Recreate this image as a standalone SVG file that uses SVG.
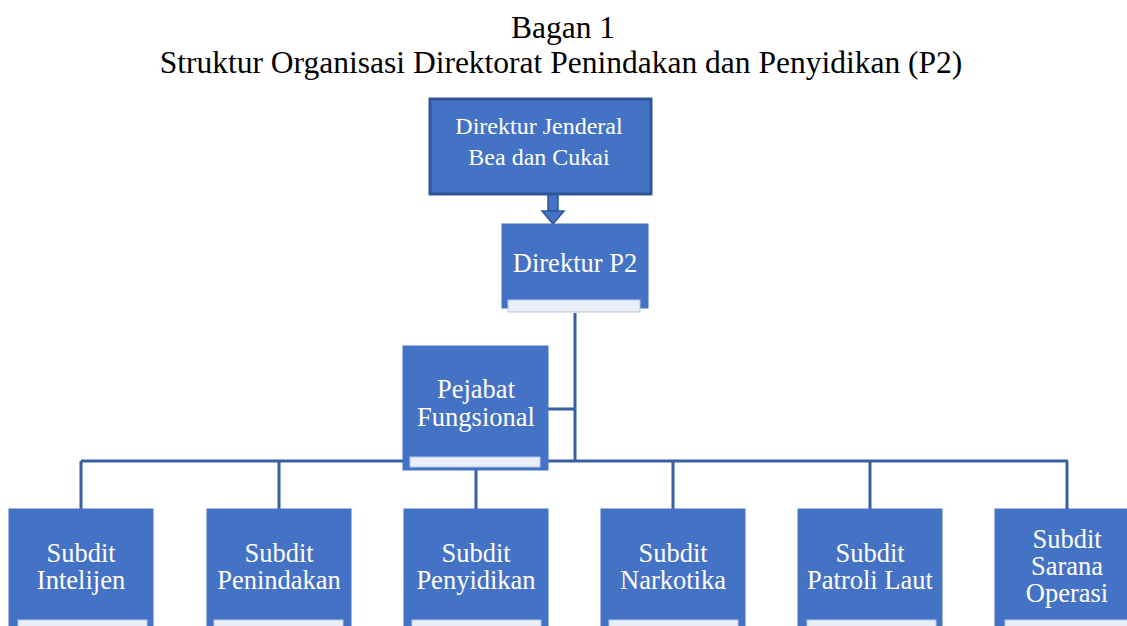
<svg xmlns="http://www.w3.org/2000/svg" width="1127" height="626" viewBox="0 0 1127 626">
<style>
.title{font-family:"Liberation Serif",serif;font-size:31.5px;fill:#000;text-anchor:middle}
.box{fill:#4472C4;stroke:#4472C4;stroke-width:1}
.bar{fill:#E9EEF7;stroke:#B4C6E7;stroke-width:1}
.t{font-family:"Liberation Serif",serif;font-size:26.5px;fill:#fff;text-anchor:middle}
.t2{font-family:"Liberation Serif",serif;font-size:24px;fill:#fff;text-anchor:middle}
.line{fill:none;stroke:#3A5FA0;stroke-width:3}
</style>
<rect width="1127" height="626" fill="#fff"/>
<text class="title" x="563" y="38">Bagan 1</text>
<text class="title" x="561" y="73">Struktur Organisasi Direktorat Penindakan dan Penyidikan (P2)</text>
<g id="connectors">
<rect x="548" y="194" width="10" height="18" fill="#4472C4" stroke="#2F5597" stroke-width="1.5"/>
<polygon points="542,211 564,211 553,224" fill="#4472C4" stroke="#2F5597" stroke-width="1.5"/>
<path class="line" d="M575 313 V461 M541 409 H575 M81 461 H1068 M81 461 V509 M279 461 V509 M476 461 V509 M673 461 V509 M870 461 V509 M1067 461 V509"/>
</g>
<g id="dirjen">
<rect x="430" y="99" width="221" height="95" fill="#4472C4" stroke="#2F5597" stroke-width="3"/>
<text class="t2" x="539" y="134">Direktur Jenderal</text>
<text class="t2" x="539" y="165">Bea dan Cukai</text>
</g>
<g id="direktur-p2">
<rect class="box" x="502" y="224" width="146" height="84"/>
<rect class="bar" x="508" y="300" width="132" height="12"/>
<text class="t" x="575" y="272">Direktur P2</text>
</g>
<g id="pejabat">
<rect class="box" x="403" y="346" width="145" height="124"/>
<rect class="bar" x="410" y="457" width="130" height="10"/>
<text class="t" x="476" y="398">Pejabat</text>
<text class="t" x="476" y="426">Fungsional</text>
</g>
<g id="subdit-intelijen">
<rect class="box" x="9" y="509" width="144" height="120"/>
<rect class="bar" x="18" y="620" width="129" height="12"/>
<text class="t" x="81" y="562">Subdit</text>
<text class="t" x="81" y="589">Intelijen</text>
</g>
<g id="subdit-penindakan">
<rect class="box" x="207" y="509" width="144" height="120"/>
<rect class="bar" x="214" y="620" width="129" height="12"/>
<text class="t" x="279" y="562">Subdit</text>
<text class="t" x="279" y="589">Penindakan</text>
</g>
<g id="subdit-penyidikan">
<rect class="box" x="404" y="509" width="144" height="120"/>
<rect class="bar" x="412" y="620" width="129" height="12"/>
<text class="t" x="476" y="562">Subdit</text>
<text class="t" x="476" y="589">Penyidikan</text>
</g>
<g id="subdit-narkotika">
<rect class="box" x="601" y="509" width="144" height="120"/>
<rect class="bar" x="609" y="620" width="129" height="12"/>
<text class="t" x="673" y="562">Subdit</text>
<text class="t" x="673" y="589">Narkotika</text>
</g>
<g id="subdit-patroli-laut">
<rect class="box" x="798" y="509" width="144" height="120"/>
<rect class="bar" x="807" y="620" width="129" height="12"/>
<text class="t" x="870" y="562">Subdit</text>
<text class="t" x="870" y="589">Patroli Laut</text>
</g>
<g id="subdit-sarana-operasi">
<rect class="box" x="995" y="509" width="144" height="120"/>
<rect class="bar" x="1005" y="620" width="129" height="12"/>
<text class="t" x="1067" y="548">Subdit</text>
<text class="t" x="1067" y="575">Sarana</text>
<text class="t" x="1067" y="602">Operasi</text>
</g>
</svg>
